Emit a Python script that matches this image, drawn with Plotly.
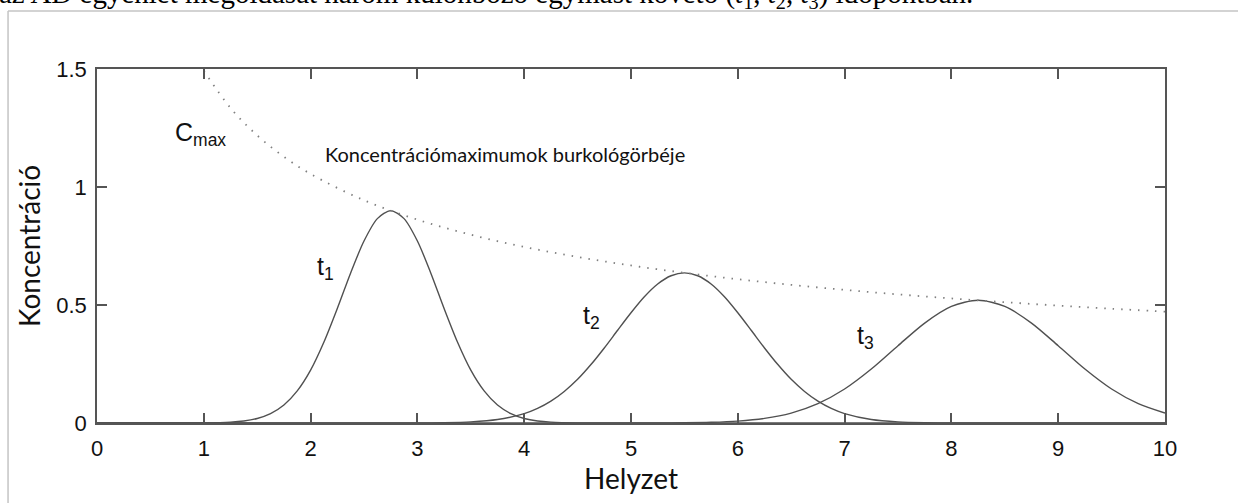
import plotly.graph_objects as go

# Concentration profile at t1 (finer sampling around the narrow peak)
x_t1 = [0, 0.5, 1.0, 1.25, 1.375, 1.5, 1.625, 1.75, 1.875, 2.0, 2.125, 2.25,
        2.375, 2.5, 2.625, 2.75, 2.875, 3.0, 3.125, 3.25, 3.375, 3.5, 3.625,
        3.75, 3.875, 4.0, 4.125, 4.25, 4.5, 5, 6, 7, 8, 9, 10]
c_t1 = [0, 0, 0.0005, 0.0035, 0.0084, 0.019, 0.0395, 0.076, 0.1359, 0.224,
        0.3431, 0.485, 0.636, 0.771, 0.866, 0.9, 0.866, 0.771, 0.636, 0.485,
        0.3431, 0.224, 0.1359, 0.076, 0.0395, 0.019, 0.0084, 0.0035, 0.0005,
        0, 0, 0, 0, 0, 0]

# Concentration profile at t2
x_t2 = [0, 1, 2, 2.5, 2.75, 3.0, 3.25, 3.5, 3.75, 4.0, 4.125, 4.25, 4.375,
        4.5, 4.625, 4.75, 4.875, 5.0, 5.125, 5.25, 5.375, 5.5, 5.625, 5.75,
        5.875, 6.0, 6.125, 6.25, 6.375, 6.5, 6.625, 6.75, 6.875, 7.0, 7.25,
        7.5, 7.75, 8.0, 8.25, 8.5, 9, 10]
c_t2 = [0, 0, 0, 0, 0.0001, 0.0003, 0.0012, 0.0046, 0.0146, 0.0397, 0.0619,
        0.0927, 0.1337, 0.185, 0.2476, 0.318, 0.393, 0.467, 0.5348, 0.589,
        0.6239, 0.636, 0.6239, 0.589, 0.5348, 0.467, 0.393, 0.318, 0.2476,
        0.185, 0.1337, 0.0927, 0.0619, 0.0397, 0.0146, 0.0046, 0.0012,
        0.0003, 0.0001, 0, 0, 0]

# Concentration profile at t3, sampled every 0.25
x_t3 = [i * 0.25 for i in range(41)]
c_t3 = [0, 0, 0, 0, 0, 0, 0, 0, 0, 0, 0, 0, 0, 0, 0, 0, 0, 0, 0, 0,
        0.0001, 0.0003, 0.001, 0.0031, 0.0081, 0.0194, 0.042, 0.0819, 0.144,
        0.2286, 0.3275, 0.4234, 0.494, 0.52, 0.494, 0.4234, 0.3275, 0.2286,
        0.144, 0.0819, 0.042]

# Envelope of the concentration maxima
x_env = [1, 1.25, 1.5, 1.75, 2, 2.5, 3, 3.5, 4, 4.5, 5, 5.5, 6, 6.5, 7,
         7.5, 8, 8.5, 9, 9.5, 10]
c_env = [1.4925, 1.3349, 1.2186, 1.1282, 1.0553, 0.9439, 0.8617, 0.7978,
         0.7462, 0.7036, 0.6675, 0.6364, 0.6093, 0.5854, 0.5641, 0.545,
         0.5277, 0.5119, 0.4975, 0.4842, 0.472]

x_ticks = [0, 1, 2, 3, 4, 5, 6, 7, 8, 9, 10]
y_ticks = [0, 0.5, 1, 1.5]
y_tick_labels = ["0", "0.5", "1", "1.5"]

curve_col = "#505050"
axis_col = "#555555"

fig = go.Figure()
for xs, c in ((x_t1, c_t1), (x_t2, c_t2), (x_t3, c_t3)):
    fig.add_trace(go.Scatter(x=xs, y=c, mode="lines",
                             line=dict(color=curve_col, width=1.4, shape="spline",
                                       smoothing=0.8),
                             hoverinfo="skip", showlegend=False))
fig.add_trace(go.Scatter(x=x_env, y=c_env, mode="lines",
                         line=dict(color="#808080", width=1.8, dash="1.5px,7px",
                                   shape="spline"),
                         hoverinfo="skip", showlegend=False))

label_font = dict(family="Liberation Sans, Arial, sans-serif", size=25, color="#111")
tick_font = dict(family="Liberation Sans, Arial, sans-serif", size=22, color="#111")
text_font = dict(family="Lato, Calibri, sans-serif", size=20, color="#111")
title_font = dict(family="Lato, Calibri, sans-serif", size=28, color="#111")

annotations = [
    dict(x=0.97, y=1.225, text="C<sub>max</sub>", font=label_font,
         showarrow=False, xanchor="center", yanchor="middle"),
    dict(x=2.12, y=1.14, text="Koncentrációmaximumok burkológörbéje",
         font=text_font, showarrow=False, xanchor="left", yanchor="middle"),
    dict(x=2.14, y=0.655, text="t<sub>1</sub>", font=label_font,
         showarrow=False, xanchor="center", yanchor="middle"),
    dict(x=4.63, y=0.45, text="t<sub>2</sub>", font=label_font,
         showarrow=False, xanchor="center", yanchor="middle"),
    dict(x=7.2, y=0.365, text="t<sub>3</sub>", font=label_font,
         showarrow=False, xanchor="center", yanchor="middle"),
    # caption line from the surrounding document, cut off at the top edge
    dict(x=-0.094, y=1.152, xref="paper", yref="paper",
         text="az AD egyenlet megoldását három különböző egymást követő "
              "(<i>t</i><sub>1</sub>, <i>t</i><sub>2</sub>, <i>t</i><sub>3</sub>) időpontban.",
         font=dict(family="Liberation Serif, Times New Roman, serif", size=29,
                   color="#000"),
         showarrow=False, xanchor="left", yanchor="bottom"),
]

shapes = [
    # light frame around the figure
    dict(type="line", xref="paper", yref="paper", x0=-0.0833, x1=1.2,
         y0=1.1638, y1=1.1638, line=dict(color="#c4c4c4", width=1.5)),
    dict(type="line", xref="paper", yref="paper", x0=-0.0833, x1=-0.0833,
         y0=-0.3, y1=1.1638, line=dict(color="#c4c4c4", width=1.5)),
    # small stray mark above the axes
    dict(type="circle", xref="x", yref="y", x0=6.205, x1=6.229,
         y0=1.578, y1=1.592, fillcolor="#7f93a8", line=dict(width=0)),
]

fig.update_layout(
    width=1238, height=503,
    margin=dict(l=97, r=73, t=69, b=80),
    paper_bgcolor="white", plot_bgcolor="white",
    annotations=annotations, shapes=shapes,
    xaxis=dict(range=[0, 10], tickvals=x_ticks, ticks="inside", ticklen=10,
               tickwidth=1.5, tickcolor=axis_col, showline=True,
               linecolor=axis_col, linewidth=1.5, mirror="ticks",
               showgrid=False, zeroline=False, tickfont=tick_font,
               ticklabelstandoff=5,
               title=dict(text="Helyzet", font=title_font, standoff=2)),
    yaxis=dict(range=[0, 1.5], tickvals=y_ticks, ticktext=y_tick_labels,
               ticks="inside", ticklen=10, tickwidth=1.5, tickcolor=axis_col,
               showline=True, linecolor=axis_col, linewidth=1.5, mirror="ticks",
               showgrid=False, zeroline=False, tickfont=tick_font,
               ticklabelstandoff=4,
               title=dict(text="Koncentráció", font=title_font, standoff=7)),
)

fig.write_html("out.html")
